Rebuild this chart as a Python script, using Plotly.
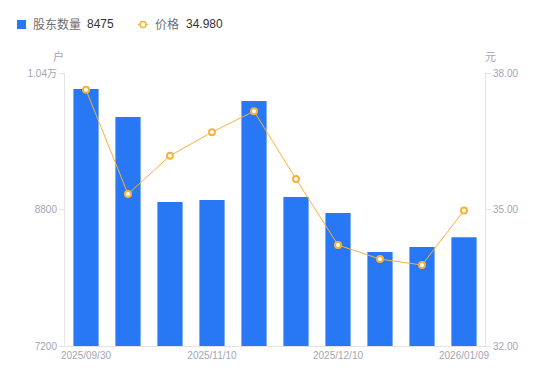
import plotly.graph_objects as go

dates = ["2025/09/30", "2025/10/20", "2025/10/31", "2025/11/10", "2025/11/20",
         "2025/11/28", "2025/12/10", "2025/12/19", "2025/12/31", "2026/01/09"]
holders = [10212, 9884, 8888, 8911, 10072, 8947, 8759, 8302, 8360, 8475]
prices = [37.63, 35.34, 36.18, 36.70, 37.16, 35.67, 34.22, 33.91, 33.78, 34.98]
x_tick_labels = ["2025/09/30", "2025/11/10", "2025/12/10", "2026/01/09"]
left_ticks = [7200, 8800, 10400]
left_tick_text = ["7200", "8800", "1.04万"]
right_ticks = [32, 35, 38]
legend_names = ["股东数量", "价格"]
legend_values = ["8475", "34.980"]

FONT = "Liberation Sans, Arial, Noto Sans CJK SC, sans-serif"
AXIS_COLOR = "#e3e3e8"
LABEL_COLOR = "#a3a5b5"
TICK_FONT = dict(family=FONT, size=10, color=LABEL_COLOR)
BAR_COLOR = "#2878f5"
LINE_COLOR = "#f7b23b"

L, R, T, B = 65, 485, 73, 346
W, H = R - L, B - T


def px(x):
    return (x - L) / W


def py(y):
    return (B - y) / H


fig = go.Figure()
fig.add_trace(go.Bar(
    x=dates, y=holders, name=legend_names[0],
    marker=dict(color=BAR_COLOR, line=dict(width=0)), yaxis="y",
))
fig.add_trace(go.Scatter(
    x=dates, y=prices, name=legend_names[1],
    mode="lines+markers", yaxis="y2",
    line=dict(color=LINE_COLOR, width=1),
    marker=dict(symbol="circle", size=6, color="white", line=dict(color=LINE_COLOR, width=2)),
))

ly = 24.5
shapes = [
    dict(type="rect", xref="paper", yref="paper", x0=px(17), x1=px(26), y0=py(29), y1=py(20),
         fillcolor=BAR_COLOR, line=dict(width=0)),
    dict(type="line", xref="paper", yref="paper", x0=px(138), x1=px(148), y0=py(ly), y1=py(ly),
         line=dict(color=LINE_COLOR, width=1)),
    dict(type="circle", xref="paper", yref="paper", x0=px(140), x1=px(146), y0=py(27.5), y1=py(21.5),
         fillcolor="white", line=dict(color=LINE_COLOR, width=1.5)),
]

name_font = dict(family=FONT, size=12, color="#6e6e78")
val_font = dict(family=FONT, size=12, color="#333333")
annotations = [
    dict(text=legend_names[0], x=px(31), y=py(ly), font=name_font),
    dict(text=legend_values[0], x=px(85), y=py(ly), font=val_font),
    dict(text=legend_names[1], x=px(153), y=py(ly), font=name_font),
    dict(text=legend_values[1], x=px(184), y=py(ly), font=val_font),
]
for a in annotations:
    a.update(xref="paper", yref="paper", showarrow=False, xanchor="left", yanchor="middle")
annotations += [
    dict(text="户", xref="paper", yref="paper", x=px(58.5), y=py(56.5), showarrow=False,
         xanchor="center", yanchor="middle", font=dict(family=FONT, size=11, color=LABEL_COLOR)),
    dict(text="元", xref="paper", yref="paper", x=px(490.5), y=py(56.5), showarrow=False,
         xanchor="center", yanchor="middle", font=dict(family=FONT, size=11, color=LABEL_COLOR)),
]

fig.update_layout(
    width=550, height=381,
    margin=dict(l=L, r=550 - R, t=T, b=381 - B, autoexpand=False),
    paper_bgcolor="white", plot_bgcolor="white",
    bargap=0.4,
    font=dict(family=FONT),
    showlegend=False,
    xaxis=dict(type="category", range=[-0.5, 9.5], tickmode="array",
               tickvals=x_tick_labels, ticktext=x_tick_labels,
               showline=True, linecolor=AXIS_COLOR, linewidth=1,
               ticks="", showgrid=False, zeroline=False, tickfont=TICK_FONT,
               automargin=False),
    yaxis=dict(range=[7200, 10400], tickmode="array", tickvals=left_ticks,
               ticktext=left_tick_text, showline=True, linecolor=AXIS_COLOR,
               ticks="outside", ticklen=5, tickcolor=AXIS_COLOR,
               showgrid=False, zeroline=False, tickfont=TICK_FONT, automargin=False),
    yaxis2=dict(range=[32, 38], overlaying="y", side="right", tickmode="array",
                tickvals=right_ticks, tickformat=".2f", showline=True,
                linecolor=AXIS_COLOR, ticks="outside", ticklen=5, tickcolor=AXIS_COLOR,
                showgrid=False, zeroline=False, tickfont=TICK_FONT, automargin=False),
    shapes=shapes,
    annotations=annotations,
)

fig.write_html("out.html", config={"displayModeBar": False},
               post_script="document.body.style.margin='0';")
